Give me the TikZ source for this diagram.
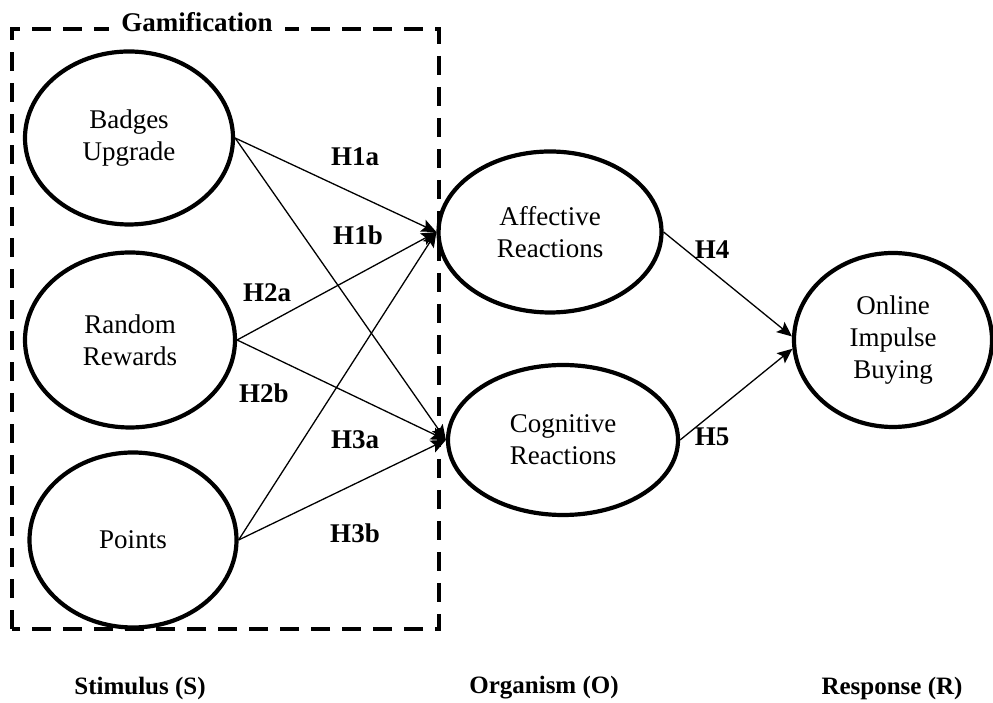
\documentclass[tikz,border=0pt]{standalone}
\usepackage{fontspec}
\setmainfont{Liberation Serif}
\usetikzlibrary{shapes.geometric,arrows.meta}
\begin{document}
\begin{tikzpicture}[x=1pt,y=1pt,
  construct/.style={ellipse,draw,line width=4.2pt,align=center,inner sep=0pt,
    font=\fontsize{27}{32}\selectfont},
  hlabel/.style={font=\bfseries\fontsize{27}{30}\selectfont,inner sep=0pt},
  stagelabel/.style={font=\bfseries\fontsize{25}{28}\selectfont,inner sep=0pt},
  titlelabel/.style={font=\bfseries\fontsize{27}{30}\selectfont},
  path/.style={line width=1.3pt,-{Stealth[length=15pt,width=13pt,inset=3pt]}},
  gamebox/.style={draw,line width=4pt,dash pattern=on 19pt off 12pt}]
\useasboundingbox (0,0) rectangle (993,703);
% dashed gamification box
\draw[gamebox] (12,74) rectangle (439,674);
\node[titlelabel,fill=white,inner xsep=12pt,inner ysep=4pt] (gam) at (197,681) {Gamification};
% constructs
\node[construct,minimum width=208pt,minimum height=173pt] (badges) at (129,565) {Badges\\Upgrade};
\node[construct,minimum width=210pt,minimum height=175pt] (random) at (130,363) {Random\\Rewards};
\node[construct,minimum width=207pt,minimum height=175pt] (points) at (133,163) {Points};
\node[construct,minimum width=223pt,minimum height=161pt] (affective) at (550,471) {Affective\\Reactions};
\node[construct,minimum width=230pt,minimum height=150pt] (cognitive) at (563,263) {Cognitive\\Reactions};
\node[construct,minimum width=198pt,minimum height=174pt] (online) at (893,363) {Online\\Impulse\\Buying};
% paths
\draw[path] (badges.east) -- (affective.west);
\draw[path] (badges.east) -- (cognitive.west);
\draw[path] (random.east) -- (affective.west);
\draw[path] (random.east) -- (cognitive.west);
\draw[path] (points.east) -- (affective.west);
\draw[path] (points.east) -- (cognitive.west);
\draw[path] (affective.east) -- (online.178);
\draw[path] (cognitive.east) -- (online.185);
% hypothesis labels
\node[hlabel] (h1a) at (355,546) {H1a};
\node[hlabel] (h1b) at (358,468) {H1b};
\node[hlabel] (h2a) at (267,410) {H2a};
\node[hlabel] (h2b) at (264,310) {H2b};
\node[hlabel] (h3a) at (355,263) {H3a};
\node[hlabel] (h3b) at (355,170) {H3b};
\node[hlabel] (h4) at (712,453) {H4};
\node[hlabel] (h5) at (712,266) {H5};
% stage labels
\node[stagelabel] (stim) at (140,15) {Stimulus (S)};
\node[stagelabel] (org) at (544,15) {Organism (O)};
\node[stagelabel] (resp) at (892,15) {Response (R)};
\end{tikzpicture}
\end{document}
